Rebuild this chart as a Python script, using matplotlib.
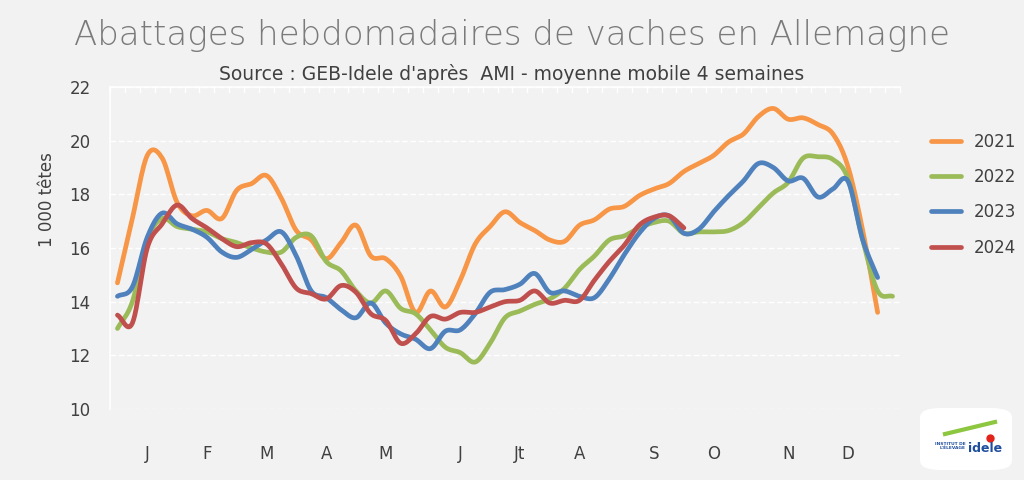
import numpy as np
import matplotlib
matplotlib.use("Agg")
import matplotlib.pyplot as plt
from matplotlib.patches import FancyBboxPatch

# ---------------- data ----------------
years = ["2021", "2022", "2023", "2024"]
colors = ["#F79646", "#9BBB59", "#4F81BD", "#C0504D"]

s2021 = [14.7, 17.1, 19.45, 19.35, 17.7, 17.2, 17.4, 17.1, 18.15, 18.4,
         18.7, 17.85, 16.65, 16.3, 15.6, 16.2, 16.85, 15.7, 15.6, 14.95,
         13.6, 14.4, 13.8, 14.8, 16.15, 16.8, 17.35, 16.95, 16.65, 16.3,
         16.25, 16.85, 17.05, 17.45, 17.55, 17.95, 18.2, 18.4, 18.85, 19.15,
         19.45, 19.95, 20.25, 20.9, 21.2, 20.8, 20.85, 20.6, 20.25, 19.05,
         16.65, 13.6]
s2022 = [13.0, 14.0, 16.3, 17.1, 16.8, 16.7, 16.6, 16.35, 16.2, 16.0,
         15.85, 15.85, 16.4, 16.45, 15.5, 15.15, 14.4, 13.95, 14.4, 13.75,
         13.55, 12.95, 12.3, 12.1, 11.75, 12.45, 13.4, 13.65, 13.9, 14.1,
         14.5, 15.2, 15.7, 16.3, 16.45, 16.75, 16.95, 17.0, 16.55, 16.6,
         16.6, 16.65, 16.95, 17.5, 18.05, 18.45, 19.35, 19.4, 19.3, 18.6,
         16.3, 14.4, 14.2]
s2023 = [14.2, 14.55, 16.4, 17.3, 16.9, 16.7, 16.4, 15.85, 15.65, 15.95,
         16.3, 16.6, 15.7, 14.4, 14.15, 13.7, 13.4, 13.95, 13.2, 12.8,
         12.6, 12.25, 12.9, 12.95, 13.55, 14.35, 14.45, 14.65, 15.05, 14.35,
         14.4, 14.2, 14.15, 14.85, 15.75, 16.55, 17.1, 17.2, 16.55, 16.7,
         17.35, 17.95, 18.5, 19.15, 19.0, 18.5, 18.6, 17.9, 18.2, 18.5,
         16.3, 14.9]
s2024 = [13.5, 13.2, 16.0, 16.9, 17.6, 17.1, 16.75, 16.35, 16.05, 16.2,
         16.15, 15.4, 14.5, 14.3, 14.1, 14.6, 14.35, 13.55, 13.3, 12.45,
         12.8, 13.45, 13.35, 13.6, 13.6, 13.8, 14.0, 14.05, 14.4, 13.95,
         14.05, 14.05, 14.8, 15.5, 16.1, 16.85, 17.15, 17.2, 16.75]
series = [s2021, s2022, s2023, s2024]

n_weeks = 53
month_labels = ["J", "F", "M", "A", "M", "J", "Jt", "A", "S", "O", "N", "D"]
month_weeks = [3, 7, 11, 15, 19, 24, 28, 32, 37, 41, 46, 50]
yticks = [10, 12, 14, 16, 18, 20, 22]


def smooth(x, y, k=12):
    """Catmull-Rom spline through the points (similar to Excel smoothing)."""
    x = np.asarray(x, float)
    y = np.asarray(y, float)
    px = np.concatenate([[2 * x[0] - x[1]], x, [2 * x[-1] - x[-2]]])
    py = np.concatenate([[2 * y[0] - y[1]], y, [2 * y[-1] - y[-2]]])
    xs, ys = [], []
    t = np.linspace(0, 1, k, endpoint=False)
    for i in range(1, len(px) - 2):
        for P, out in ((px, xs), (py, ys)):
            p0, p1, p2, p3 = P[i - 1], P[i], P[i + 1], P[i + 2]
            out.extend(0.5 * ((2 * p1) + (-p0 + p2) * t +
                              (2 * p0 - 5 * p1 + 4 * p2 - p3) * t ** 2 +
                              (-p0 + 3 * p1 - 3 * p2 + p3) * t ** 3))
    xs.append(x[-1])
    ys.append(y[-1])
    return np.array(xs), np.array(ys)


plt.rcParams['font.family'] = ['DejaVu Sans']
bg = "#F2F2F2"
txt = "#404040"

fig = plt.figure(figsize=(10.24, 4.8), dpi=100, facecolor=bg)
ax = fig.add_axes([110 / 1024, 1 - 409 / 480, 790 / 1024, 322 / 480])
ax.set_facecolor(bg)

for name, col, vals in zip(years, colors, series):
    wk = np.arange(1, len(vals) + 1)
    sx, sy = smooth(wk, vals)
    ax.plot(sx, sy, color=col, lw=3.4, solid_capstyle='round',
            solid_joinstyle='round', label=name)

ax.set_xlim(0.5, n_weeks + 0.5)
ax.set_ylim(10, 22)
ax.set_yticks(yticks)
ax.set_yticklabels([str(v) for v in yticks], fontsize=12, color=txt)
ax.set_xticks(month_weeks)
ax.set_xticklabels(month_labels, fontsize=12, color=txt)
ax.tick_params(axis='both', length=0)
ax.tick_params(axis='x', pad=26)
ax.tick_params(axis='y', pad=14)

for v in yticks:
    ax.axhline(v, color="white", lw=1.0, ls=(0, (4, 2)), zorder=0)
for side in ['right', 'bottom']:
    ax.spines[side].set_visible(False)
ax.spines['left'].set_color("white")
ax.spines['left'].set_linewidth(1.2)
ax.spines['top'].set_color("white")
ax.spines['top'].set_linewidth(1.2)
# small category ticks along the top edge
for b in np.arange(0.5, n_weeks + 1.0, 1.0):
    ax.plot([b, b], [22, 21.8], color="white", lw=1.0, zorder=0, clip_on=False)

ax.set_ylabel("1 000 têtes", fontsize=12, color=txt)
ax.yaxis.set_label_coords(-0.068, 0.65)

fig.text(0.5, 0.927, "Abattages hebdomadaires de vaches en Allemagne",
         ha='center', va='center', fontsize=24.5, color="#7A7A7A",
         fontweight='light')
fig.text(0.5, 0.845, "Source : GEB-Idele d'après  AMI - moyenne mobile 4 semaines",
         ha='center', va='center', fontsize=13.5, color=txt)

leg = ax.legend(loc='upper left', bbox_to_anchor=(1.02, 0.905), frameon=False,
                fontsize=12, handlelength=1.8, labelspacing=1.04,
                handletextpad=0.8)
for t in leg.get_texts():
    t.set_color(txt)

# logo
logo = FancyBboxPatch((920 / 1024, 10 / 480), 92 / 1024, 62 / 480,
                      boxstyle="round,pad=0.0,rounding_size=0.02",
                      transform=fig.transFigure, facecolor="white",
                      edgecolor="none")
fig.patches.append(logo)
fig.text(968 / 1024, 32 / 480, "idele", ha='left', va='center',
         fontsize=9, color="#1F4E9E", fontweight='bold')
fig.text(966 / 1024, 34 / 480, "INSTITUT DE\nL'ÉLEVAGE", ha='right',
         va='center', fontsize=3.2, color="#1F4E9E", fontweight='bold')
fig.lines.append(plt.Line2D([945 / 1024, 995 / 1024], [46 / 480, 58 / 480],
                            transform=fig.transFigure, color="#8DC63F", lw=3))
fig.lines.append(plt.Line2D([990 / 1024], [42 / 480], marker='o', ms=5,
                            transform=fig.transFigure, color="#E2231A", lw=0))

fig.savefig("out.png", dpi=100, facecolor=bg)
